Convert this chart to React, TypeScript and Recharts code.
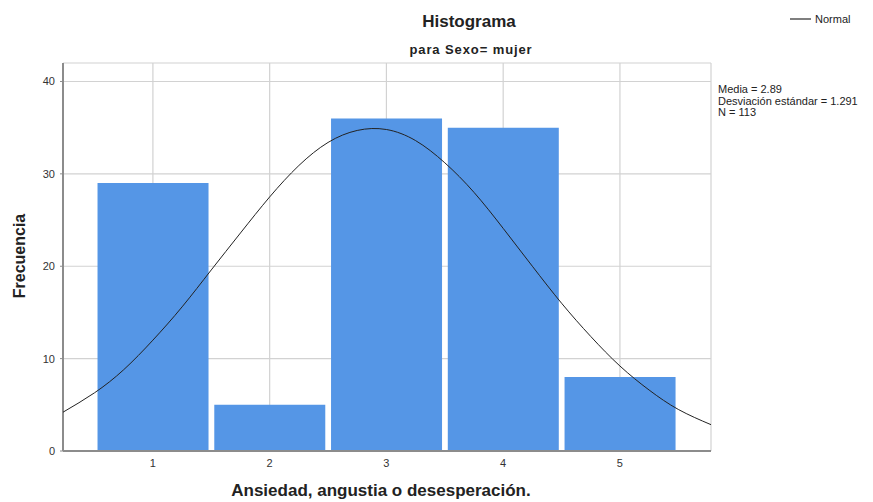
import { BarChart, LineChart, Bar, Line, XAxis, YAxis, CartesianGrid } from "recharts";

// histogram bins (value -> count)
const categories = [1, 2, 3, 4, 5];
const frequencies = [29, 5, 36, 35, 8];
const yTicks = [0, 10, 20, 30, 40];

// normal curve
const curveX = [0.23, 0.5, 0.75, 1, 1.25, 1.5, 1.75, 2, 2.25, 2.5, 2.75, 3, 3.25, 3.5, 3.75, 4, 4.25, 4.5, 4.75, 5, 5.25, 5.5, 5.78];
const curveY = [4.2, 6.3, 8.8, 12, 15.6, 19.6, 23.6, 27.5, 30.9, 33.4, 34.7, 34.8, 33.6, 31.2, 28, 24.1, 20, 16, 12.4, 9.2, 6.6, 4.5, 2.85];

const statsLines = ["Media = 2.89", "Desviación estándar = 1.291", "N = 113"];

const barData = categories.map((c, i) => ({ x: c, freq: frequencies[i] }));
const curveData = curveX.map((x, i) => ({ x, y: curveY[i] }));

const W = 873;
const H = 502;
const font = "'Liberation Sans', Arial, sans-serif";
const margin = { top: 63, right: 162, bottom: 21, left: 0 };
// hidden axes take no room, so the overlay gets the axis sizes as margin
const overlayMargin = { top: 63, right: 162, bottom: 51, left: 63 };
const xDomain = [0.23, 5.78];
const yDomain = [0, 42];

export default function App() {
  return (
    <div style={{ position: "absolute", left: 0, top: 0, width: W, height: H, background: "#fff", fontFamily: font }}>
      {/* bars + axes */}
      <BarChart width={W} height={H} data={barData} margin={margin}>
        <CartesianGrid stroke="#d2d2d2" strokeWidth={1.2} />
        <XAxis
          dataKey="x"
          type="number"
          domain={xDomain}
          ticks={categories}
          allowDataOverflow
          height={30}
          tickLine={false}
          tickSize={4}
          tickMargin={4}
          axisLine={{ stroke: "#8c8c8c", strokeWidth: 2 }}
          tick={{ fontSize: 11, fill: "#333", fontFamily: font }}
        />
        <YAxis
          type="number"
          domain={yDomain}
          ticks={yTicks}
          allowDataOverflow
          width={63}
          tickSize={3}
          tickMargin={5}
          axisLine={{ stroke: "#8c8c8c", strokeWidth: 2 }}
          tickLine={{ stroke: "#8c8c8c" }}
          tick={{ fontSize: 11, fill: "#333", fontFamily: font }}
        />
        <Bar dataKey="freq" fill="#5596e6" barSize={111} isAnimationActive={false} />
      </BarChart>

      {/* normal curve on top, same scales */}
      <div style={{ position: "absolute", left: 0, top: 0 }}>
        <LineChart width={W} height={H} data={curveData} margin={overlayMargin}>
          <XAxis dataKey="x" type="number" domain={xDomain} allowDataOverflow hide />
          <YAxis type="number" domain={yDomain} allowDataOverflow hide />
          <Line
            dataKey="y"
            type="natural"
            stroke="#222"
            strokeWidth={1}
            dot={false}
            activeDot={false}
            isAnimationActive={false}
          />
        </LineChart>
      </div>

      <svg
        width={W}
        height={H}
        style={{ position: "absolute", left: 0, top: 0, pointerEvents: "none" }}
        fontFamily={font}
      >
        <text x={469} y={27} textAnchor="middle" fontSize={17} fontWeight="bold" fill="#222">
          Histograma
        </text>
        <text x={471} y={54} textAnchor="middle" fontSize={13} fontWeight="bold" fill="#222" letterSpacing={0.9}>
          para Sexo= mujer
        </text>
        <line x1={790} y1={19} x2={811} y2={19} stroke="#555" strokeWidth={1.5} />
        <text x={815} y={23} fontSize={11} fill="#222">
          Normal
        </text>
        {statsLines.map((s, i) => (
          <text key={s} x={718} y={93 + i * 11.5} fontSize={11} fill="#222">
            {s}
          </text>
        ))}
        <text x={25} y={256} textAnchor="middle" fontSize={16} fontWeight="bold" fill="#222" transform="rotate(-90 25 256)">
          Frecuencia
        </text>
        <text x={381} y={496} textAnchor="middle" fontSize={17} fontWeight="bold" fill="#222">
          Ansiedad, angustia o desesperación.
        </text>
      </svg>
    </div>
  );
}
